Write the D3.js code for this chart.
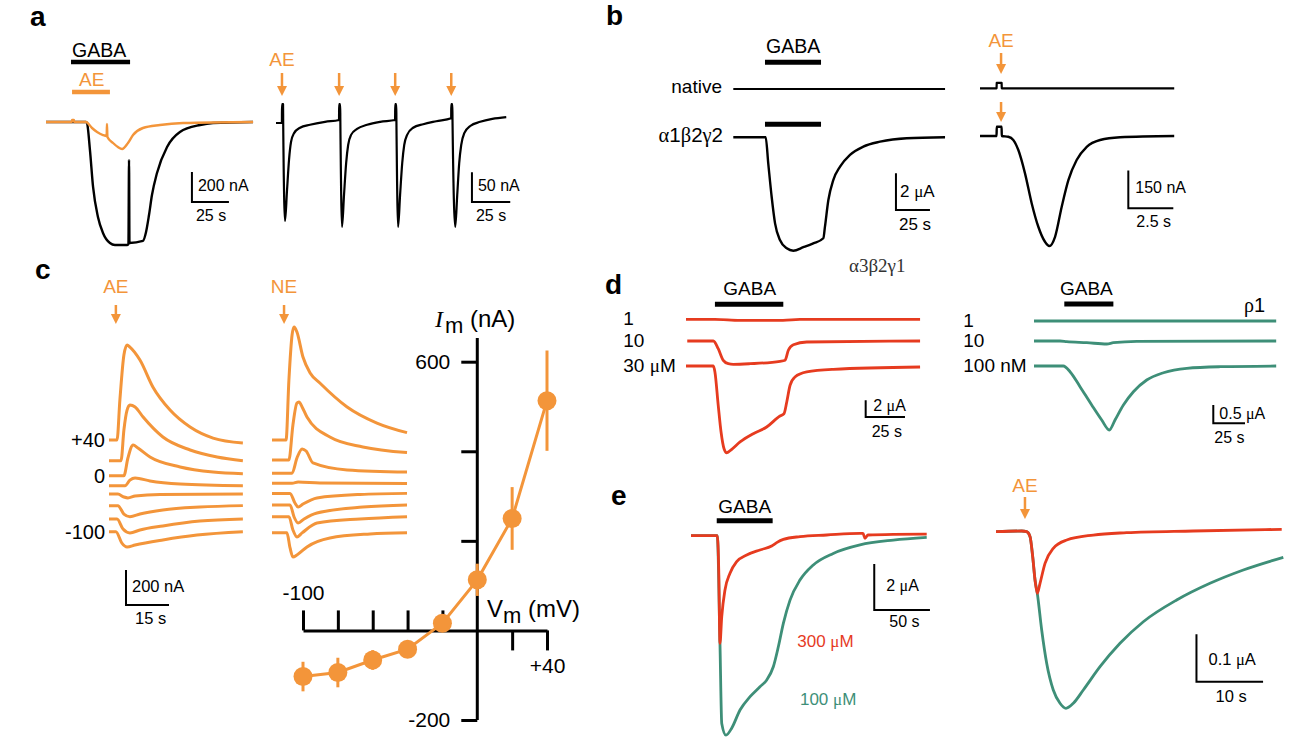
<!DOCTYPE html>
<html>
<head>
<meta charset="utf-8">
<script src="https://cdn.jsdelivr.net/npm/d3@7"></script>
<style>
body { margin: 0; background: #fff; }
</style>
</head>
<body>
<div id="figure"></div>
<script>
var W = 1306, H = 754;
var orange = "#f3953a", red = "#e63b1f", teal = "#3e8f78";
var sans = "'Liberation Sans', Arial, sans-serif", serif = "'Liberation Serif', 'DejaVu Serif', serif";

// ---------- a : GABA / AE co-application (t s, I nA)
var aGabaTrace = [[0,0],[17.6,0],[27,0],[27.7,-7],[29.7,-187],[31.8,-433],[35.1,-633],[38.5,-740],[43.2,-807],[46.6,-820],
  [54.7,-820],[55.7,-813],[56.1,-253],[56.4,-807],[65.5,-793],[67.6,-733],[69.6,-620],[71.6,-487],[75,-340],[81.8,-167],
  [90.5,-67],[104.1,-20],[112.8,-7],[139.9,0]];
var aAeTrace = [[0,0],[17.5,0],[17.6,13],[18.9,13],[19,0],[27,0],[31.1,-40],[34.5,-67],[38.5,-87],[41,-93],[41.2,-13],
  [41.5,-100],[45.3,-140],[48.6,-167],[51.4,-180],[55.4,-140],[58.8,-87],[65.5,-40],[77,-20],[92.6,-7],[139.9,0]];
var aGabaBar = [16.9, 56.8];
var aAeBar = [17.6, 43.2];
// repeated AE puffs
var aPuffTrace = [[0,0],[3.85,0],[3.9,32],[4.6,32],[4.7,0],[5.9,-165],[7.2,-113],[8.5,-62],[9.8,-32],[11.8,-17],[15.7,-8],
  [22.2,-3],[32,2],[41.15,5],[41.2,32],[41.9,32],[42,5],[43.1,-175],[44.4,-121],[45.8,-67],[47.1,-37],[49,-20],[52.9,-10],
  [59.5,-3],[68,2],[77.75,5],[77.8,32],[78.5,32],[78.6,5],[79.7,-175],[81,-121],[82.4,-67],[83.7,-37],[85.6,-20],[89.5,-8],
  [96.1,-2],[104.6,3],[114.35,8],[114.4,32],[115.1,32],[115.2,8],[117,-175],[118.3,-121],[119.6,-67],[120.9,-37],[122.9,-17],
  [126.8,-5],[133.3,2],[141.2,7],[150.3,10]];
var aPuffTimes = [3.9, 41.2, 77.8, 114.4];

// ---------- b : native vs alpha1beta2gamma2 (t s, I uA / nA)
var bNativeGaba = [[0,0],[155.7,0]];
var bRecGaba = [[0,0],[23.8,0],[25.7,-1.42],[28.2,-3.24],[30.7,-4.69],[34.3,-5.6],[39.3,-6.05],[44.1,-6.18],[51.5,-5.99],
  [58.8,-5.78],[66.2,-5.5],[67.4,-4.87],[69.9,-3.42],[73.5,-2.33],[78.5,-1.6],[85.8,-0.96],[95.6,-0.51],[107.9,-0.24],
  [127.5,-0.05],[155.7,0]];
var bGabaBar = [23.3, 64.5];
var bNativeAe = [[0,0],[0.92,0],[0.93,22],[1.2,22],[1.21,0],[10.79,0]];
var bRecAe = [[0,0],[0.92,0],[0.93,37],[1.2,37],[1.21,0],[1.57,-3],[1.85,-16],[2.13,-56],[2.5,-149],[2.87,-268],[3.24,-362],
  [3.61,-422],[3.85,-439],[4.17,-402],[4.54,-282],[4.91,-176],[5.37,-96],[5.93,-43],[6.67,-16],[7.78,-5],[10.79,0]];
var bPuffTime = 1.17;

// ---------- c : voltage series (t s, I nA, stacked)
var cLevels = ["+40", "+20", "0", "-20", "-40", "-60", "-80", "-100"];
var cAeTraces = [
  [[0,0],[2.8,0],[3.8,229],[5.2,486],[6.3,543],[7.3,531],[10.8,457],[15.3,303],[21.3,171],[28.3,74],[36.3,11],[46.7,-17]],
  [[0,-118],[4.2,-118],[5.2,57],[6.3,171],[7.3,200],[9.1,189],[11.9,131],[18.8,17],[28.3,-57],[37.7,-97],[46.7,-118]],
  [[0,-204],[5.2,-204],[6.6,-103],[8.4,-29],[10.1,-46],[14.3,-97],[24.8,-154],[36.3,-183],[46.7,-193]],
  [[0,-261],[5.6,-261],[7.3,-229],[9.1,-217],[14.3,-234],[24.8,-251],[46.7,-261]],
  [[0,-309],[3.1,-309],[5.2,-326],[6.6,-331],[9.1,-320],[17.8,-311],[46.7,-309]],
  [[0,-375],[3.1,-375],[5.2,-423],[7.3,-438],[10.8,-423],[18.8,-400],[31.7,-383],[46.7,-375]],
  [[0,-451],[2.8,-451],[4.9,-509],[7.3,-531],[10.8,-514],[18.8,-491],[31.7,-463],[46.7,-451]],
  [[0,-524],[2.4,-524],[4.5,-589],[6.3,-611],[9.1,-600],[18.8,-571],[30.7,-543],[46.7,-524]]
];
var cNeTraces = [
  [[0,0],[4.9,0],[5.9,343],[7,600],[7.7,646],[8.7,617],[10.8,474],[13.3,383],[16.7,326],[26.2,189],[36.6,97],[47.1,42]],
  [[0,-114],[5.9,-114],[7.3,86],[8.7,211],[9.4,217],[10.5,189],[12.2,131],[20.2,17],[31.7,-40],[47.1,-72]],
  [[0,-190],[7,-190],[8.7,-103],[10.5,-51],[11.9,-63],[14.3,-131],[26.2,-171],[47.1,-183]],
  [[0,-247],[7,-247],[9.1,-240],[16.7,-246],[47.1,-249]],
  [[0,-305],[6.3,-305],[8,-360],[9.1,-383],[10.8,-366],[15.7,-331],[30.7,-311],[47.1,-305]],
  [[0,-371],[6.3,-371],[7.7,-440],[9.1,-474],[11.2,-451],[15.7,-417],[31.7,-383],[47.1,-371]],
  [[0,-438],[5.9,-438],[7.3,-514],[8.7,-554],[10.5,-531],[15.7,-474],[30.7,-451],[47.1,-438]],
  [[0,-530],[5.2,-530],[6.3,-617],[7.3,-669],[8.7,-657],[12.2,-611],[20.2,-560],[34.2,-537],[47.1,-530]]
];
var cAePuff = 2.4, cNePuff = 4.2;
// I-V relation
var ivVoltage = [-100, -80, -60, -40, -20, 0, 20, 40];
var ivCurrent = [-103, -94, -66, -42, 16, 113, 250, 513];
var ivSem = [33, 33, 22, 11, 11, 36, 70, 112];
var ivYTicks = [600, 400, 200, -200];
var ivXTicksNeg = [-100, -80, -60, -40, -20];
var ivXTicksPos = [20, 40];

// ---------- d : concentration series (t s, I uA, stacked)
var dA3Traces = [
  [[0,0],[18.4,0],[34.4,-0.12],[61.7,-0.12],[72.5,-0.02],[148.9,0]],
  [[0.8,-2.6],[17.4,-2.6],[20.5,-3.52],[23.7,-4.91],[26.9,-5.32],[30.1,-5.39],[40.7,-5.32],[59.8,-5.03],[63,-4.91],
   [65.1,-3.71],[68.3,-3.04],[76.8,-2.72],[148.9,-2.6]],
  [[0,-5.59],[17.4,-5.59],[18.4,-6.31],[20.5,-10.3],[22.3,-13.5],[24.2,-15.5],[25.9,-15.98],[29.1,-15.57],[34.4,-14.69],
   [42.8,-13.7],[51.3,-12.9],[59.8,-11.58],[62.3,-11.31],[64.1,-9.9],[66.2,-7.9],[69.3,-6.91],[76.8,-6.31],[93.7,-5.99],
   [148.9,-5.71]]
];
var dA3Labels = ["1", "10", "30 μM"];
var dA3Bar = [18.4, 61.9];
var dRhoTraces = [
  [[0,0],[191,0]],
  [[0,-0.546],[20.5,-0.546],[25.8,-0.565],[41.6,-0.593],[57.4,-0.628],[62.6,-0.593],[81.1,-0.555],[191,-0.546]],
  [[0,-1.23],[23.1,-1.23],[28.4,-1.385],[36.3,-1.795],[45.5,-2.295],[53.4,-2.705],[59.4,-2.978],[63.9,-2.705],
   [70.5,-2.295],[78.4,-1.932],[88.9,-1.612],[102.1,-1.413],[120.5,-1.292],[146.8,-1.249],[191,-1.23]]
];
var dRhoLabels = ["1", "10", "100 nM"];
var dRhoBar = [23.9, 62.6];

// ---------- e : high GABA vs AE (t s, I uA)
var e300Gaba = [[0,0],[23.6,0],[24.9,-1.49],[26,-4.68],[27.6,-3.52],[30.5,-2.36],[35,-1.63],[41,-1.13],[50,-0.84],[61.9,-0.62],
  [72.4,-0.45],[76.9,-0.3],[82.9,-0.16],[97.8,-0.04],[121.8,0.03],[151.7,0.1],[154.4,0.1],[156.2,-0.11],[158.9,0.03],
  [181.6,0.06],[211.6,0.07]];
var e100Gaba = [[0,0],[23.6,0],[26,-4.68],[27.6,-8.16],[31.4,-8.67],[36.5,-8.37],[44,-7.58],[53,-7],[61.9,-6.57],[68,-6.27],
  [73.9,-5.7],[78.4,-4.83],[82.9,-3.81],[88.9,-2.8],[97.8,-1.93],[109.8,-1.27],[127.7,-0.77],[151.7,-0.4],[181.6,-0.19],
  [211.6,-0.07]];
var eGabaBar = [23.1, 73.3];
var e300Ae = [[0,0],[3.86,0.0015],[4.61,0],[5.11,-0.0105],[5.51,-0.0527],[5.86,-0.1019],[6.2,-0.13],[6.61,-0.1089],
  [7.36,-0.0667],[8.6,-0.035],[10.62,-0.0175],[14.61,-0.007],[19.62,-0.0021],[29.62,0.0015],[42.9,0.005]];
var e100Ae = [[0,0],[3.86,0.0015],[4.61,0],[5.11,-0.0105],[5.51,-0.0527],[5.86,-0.1019],[6.2,-0.13],[6.86,-0.2074],
  [7.61,-0.2776],[8.6,-0.334],[9.61,-0.362],[10.51,-0.3726],[11.61,-0.362],[13.11,-0.334],[15.62,-0.2848],[18.62,-0.2354],
  [22.12,-0.1899],[27.13,-0.1441],[32.13,-0.1089],[37.13,-0.0808],[43.14,-0.054]];
var ePuffTime = 4.35;

// ------------------------------------------------------------------
var svg = d3.select("#figure").append("svg").attr("width", W).attr("height", H);
svg.append("rect").attr("width", W).attr("height", H).attr("fill", "#fff");

// trace frame: origin pixel plus scale-bar length in pixels
function frame(x0, y0, tBar, tPx, iBar, iPx) {
  return {
    x: d3.scaleLinear().domain([0, tBar]).range([x0, x0 + tPx]),
    y: d3.scaleLinear().domain([0, -iBar]).range([y0, y0 + iPx])
  };
}

function trace(f, data, color, w, curve) {
  svg.append("path").datum(data)
    .attr("d", d3.line().curve(curve || d3.curveMonotoneX)
      .x(function(d) { return f.x(d[0]); }).y(function(d) { return f.y(d[1]); }))
    .attr("fill", "none").attr("stroke", color).attr("stroke-width", w)
    .attr("stroke-linejoin", "round");
}

function hbar(f, span, y, color, w) {
  svg.append("line").attr("x1", f.x(span[0])).attr("x2", f.x(span[1]))
    .attr("y1", y).attr("y2", y).attr("stroke", color).attr("stroke-width", w);
}

function arrow(x, y1, y2, color) {
  svg.append("line").attr("x1", x).attr("x2", x).attr("y1", y1).attr("y2", y2 - 7)
    .attr("stroke", color).attr("stroke-width", 2.5);
  svg.append("path").attr("d", "M" + (x - 5) + "," + (y2 - 10) + "L" + (x + 5) + "," + (y2 - 10) + "L" + x + "," + y2 + "Z")
    .attr("fill", color);
}

function txt(x, y, s, size, color, anchor, weight) {
  var t = svg.append("text").attr("x", x).attr("y", y).attr("font-size", size)
    .attr("font-family", sans)
    .attr("fill", color || "#000").attr("text-anchor", anchor || "start");
  if (weight) t.attr("font-weight", weight);
  s.split(/([μαβγρ])/).forEach(function(p) {
    if (!p) return;
    var ts = t.append("tspan").text(p);
    if (/[μαβγρ]/.test(p)) ts.attr("font-family", serif);
  });
  return t;
}

function scaleBar(f, t, i, dt, di, vLab, hLab, vOff, hOff, size) {
  var x0 = f.x(t), y0 = f.y(i), x1 = f.x(t + dt), y1 = f.y(i + di);
  svg.append("path").attr("d", "M" + x0 + "," + y1 + "V" + y0 + "H" + x1)
    .attr("fill", "none").attr("stroke", "#000").attr("stroke-width", 2);
  txt(x0 + vOff[0], y0 + vOff[1], vLab, size);
  txt(x0 + hOff[0], y0 + hOff[1], hLab, size);
}

// panel letters
[["a", 30, 26], ["b", 606, 25], ["c", 35, 279], ["d", 605, 294], ["e", 611, 505]].forEach(function(l) {
  txt(l[1], l[2], l[0], 28, "#000", "start", "bold");
});

// ---------- a
var fA1 = frame(46, 122, 25, 37, 200, 30);
hbar(fA1, aGabaBar, 62, "#000", 4.5);
hbar(fA1, aAeBar, 92, orange, 4.5);
txt(fA1.x(aGabaBar[0]) + 1, 57, "GABA", 19.5);
txt(fA1.x(aAeBar[0]) + 7, 86, "AE", 19, orange);
trace(fA1, aGabaTrace, "#000", 2.4);
trace(fA1, aAeTrace, orange, 2.4);
scaleBar(fA1, 98.6, -533, 25, 200, "200 nA", "25 s", [6, -11], [4, 19], 16);

var fA2 = frame(276, 123, 25, 38.3, 50, 29.7);
trace(fA2, aPuffTrace, "#000", 2.2);
aPuffTimes.forEach(function(t) { arrow(fA2.x(t), 73, 96, orange); });
txt(fA2.x(aPuffTimes[0]), 66, "AE", 19, orange, "middle");
scaleBar(fA2, 127.9, -133, 25, 50, "50 nA", "25 s", [6, -11], [4, 19], 16);

// ---------- b
var fB1n = frame(733.3, 89, 25, 34, 2, 36.7);
var fB1 = frame(733.3, 137.3, 25, 34, 2, 36.7);
hbar(fB1, bGabaBar, 62.3, "#000", 5);
hbar(fB1, bGabaBar, 124.3, "#000", 5);
txt(fB1.x(bGabaBar[0]) + 1, 52.7, "GABA", 19.5);
txt(722, 93.3, "native", 19, "#000", "end");
txt(723, 142.3, "α1β2γ2", 20.5, "#000", "end");
trace(fB1n, bNativeGaba, "#000", 2.2);
trace(fB1, bRecGaba, "#000", 2.4);
scaleBar(fB1, 119.6, -3.96, 25, 2, "2 μA", "25 s", [4, -13], [3, 20], 17);

var fB2n = frame(980, 88.3, 2.5, 45, 150, 37.6);
var fB2 = frame(980, 136, 2.5, 45, 150, 37.6);
trace(fB2n, bNativeAe, "#000", 2.2, d3.curveLinear);
trace(fB2, bRecAe, "#000", 2.4);
arrow(fB2.x(bPuffTime), 53, 74, orange);
arrow(fB2.x(bPuffTime), 102, 122, orange);
txt(fB2.x(bPuffTime), 46.7, "AE", 19, orange, "middle");
scaleBar(fB2, 8.24, -288, 2.5, 150, "150 nA", "2.5 s", [7, -15.6], [8, 18.4], 16);

// ---------- c
var fC1 = frame(109, 440, 15, 43, 200, 35);
var fC2 = frame(272, 440, 15, 43, 200, 35);
cAeTraces.forEach(function(tr) { trace(fC1, tr, orange, 3); });
cNeTraces.forEach(function(tr) { trace(fC2, tr, orange, 3); });
[0, 2, 7].forEach(function(k) {
  txt(105, fC1.y(cAeTraces[k][0][1]) + 7, cLevels[k], 20, "#000", "end");
});
arrow(fC1.x(cAePuff), 305, 324, orange);
arrow(fC2.x(cNePuff), 305, 324, orange);
txt(fC1.x(cAePuff), 293, "AE", 19, orange, "middle");
txt(fC2.x(cNePuff), 293, "NE", 19, orange, "middle");
scaleBar(fC1, 5.93, -943, 15, 200, "200 nA", "15 s", [6, -13], [9, 19], 16.5);

// I-V plot
var ivX = d3.scaleLinear().domain([-100, 40]).range([303, 547]);
var ivY = d3.scaleLinear().domain([-200, 600]).range([720, 361.7]);
var ivG = svg.append("g");
ivG.append("line").attr("x1", ivX(0)).attr("x2", ivX(0)).attr("y1", ivY(653)).attr("y2", ivY(-200))
  .attr("stroke", "#000").attr("stroke-width", 3);
var yAx = ivG.append("g").attr("transform", "translate(" + ivX(0) + ",0)")
  .call(d3.axisLeft(ivY).tickValues(ivYTicks).tickSize(16).tickSizeOuter(0).tickPadding(11)
    .tickFormat(function(d) { return (d === 600 || d === -200) ? d : ""; }));
var xTop = ivG.append("g").attr("transform", "translate(0," + ivY(0) + ")")
  .call(d3.axisTop(ivX).tickValues(ivXTicksNeg).tickSize(20).tickSizeOuter(0).tickPadding(10)
    .tickFormat(function(d) { return d === -100 ? d : ""; }));
var xBot = ivG.append("g").attr("transform", "translate(0," + ivY(0) + ")")
  .call(d3.axisBottom(ivX).tickValues(ivXTicksPos).tickSize(20).tickSizeOuter(0).tickPadding(8)
    .tickFormat(function(d) { return d === 40 ? "+40" : ""; }));
yAx.select(".domain").remove();
xBot.select(".domain").remove();
[yAx, xTop, xBot].forEach(function(a) {
  a.attr("font-family", sans).attr("font-size", 21);
  a.selectAll("line, path").attr("stroke-width", 3).attr("stroke", "#000");
  a.selectAll("text").attr("fill", "#000");
});

var ivPts = ivVoltage.map(function(v, i) { return [v, ivCurrent[i], ivSem[i]]; });
ivG.append("path").datum(ivPts)
  .attr("d", d3.line().x(function(d) { return ivX(d[0]); }).y(function(d) { return ivY(d[1]); }))
  .attr("fill", "none").attr("stroke", orange).attr("stroke-width", 3);
ivG.selectAll("line.err").data(ivPts).enter().append("line").attr("class", "err")
  .attr("x1", function(d) { return ivX(d[0]); }).attr("x2", function(d) { return ivX(d[0]); })
  .attr("y1", function(d) { return ivY(d[1] - d[2]); }).attr("y2", function(d) { return ivY(d[1] + d[2]); })
  .attr("stroke", orange).attr("stroke-width", 3);
ivG.selectAll("circle").data(ivPts).enter().append("circle")
  .attr("cx", function(d) { return ivX(d[0]); }).attr("cy", function(d) { return ivY(d[1]); })
  .attr("r", 9.5).attr("fill", orange);

var imLab = svg.append("text").attr("x", 435).attr("y", 327).attr("font-size", 24).attr("font-family", sans);
imLab.append("tspan").text("I").attr("font-family", serif).attr("font-style", "italic");
imLab.append("tspan").text("m").attr("font-size", 22).attr("dy", 6).attr("dx", 2);
imLab.append("tspan").text(" (nA)").attr("dy", -6);
var vmLab = svg.append("text").attr("x", 487).attr("y", 617).attr("font-size", 24).attr("font-family", sans);
vmLab.append("tspan").text("V");
vmLab.append("tspan").text("m").attr("font-size", 22).attr("dy", 6);
vmLab.append("tspan").text(" (mV)").attr("dy", -6);

// ---------- d
var fD1 = frame(686, 319.3, 25, 39.3, 2, 16.7);
hbar(fD1, dA3Bar, 304.3, "#000", 5);
txt(723.3, 295.3, "GABA", 19);
svg.append("text").attr("x", 849).attr("y", 272).attr("font-size", 19)
  .attr("font-family", serif).attr("fill", "#333").text("α3β2γ1");
dA3Traces.forEach(function(tr, k) {
  trace(fD1, tr, red, 2.8);
  txt(623.3, fD1.y(tr[0][1]) + 5.7, dA3Labels[k], 19);
});
scaleBar(fD1, 114.3, -11.7, 25, 2, "2 μA", "25 s", [7.6, -5.7], [6, 20], 16);

var fD2 = frame(1034, 321, 25, 31.7, 0.5, 18.3);
hbar(fD2, dRhoBar, 304, "#000", 5);
txt(1060, 295, "GABA", 19);
txt(1244, 311.7, "ρ1", 20);
dRhoTraces.forEach(function(tr, k) {
  trace(fD2, tr, teal, 2.8);
  txt(963.3, fD2.y(tr[0][1]) + 5.7, dRhoLabels[k], 19);
});
scaleBar(fD2, 141.4, -2.795, 25, 0.5, "0.5 μA", "25 s", [6, -4], [1, 20], 16);

// ---------- e
var fE1 = frame(691, 535.7, 50, 55.7, 2, 46);
hbar(fE1, eGabaBar, 520.7, "#000", 5);
txt(718.3, 513.3, "GABA", 19);
trace(fE1, e100Gaba, teal, 2.8);
trace(fE1, e300Gaba, red, 2.8);
txt(fE1.x(95.4), fE1.y(-4.83), "300 μM", 17, red);
txt(fE1.x(97.8), fE1.y(-7.36), "100 μM", 17, teal);
scaleBar(fE1, 164.5, -3.23, 50, 2, "2 μA", "50 s", [12, -19], [15, 17.3], 16);

var fE2 = frame(996, 531.7, 10, 66.6, 0.1, 47.4);
trace(fE2, e100Ae, teal, 2.8);
trace(fE2, e300Ae, red, 2.8);
arrow(fE2.x(ePuffTime), 497, 519, orange);
txt(fE2.x(ePuffTime), 491.7, "AE", 19, orange, "middle");
scaleBar(fE2, 30.1, -0.3165, 10, 0.1, "0.1 μA", "10 s", [12, -17], [19, 20], 16.5);
</script>
</body>
</html>
